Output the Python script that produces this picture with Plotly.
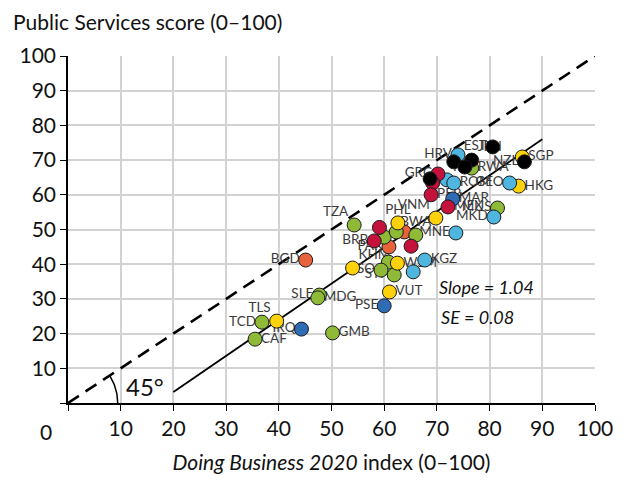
import numpy as np
import plotly.graph_objects as go

# ---------------- data ----------------
labels = ["EST", "", "JPN", "", "", "NZL",
          "GRC", "", "PER", "MEX", "", "BRB", "",
          "HRV", "POL", "ROM", "GEO", "MKD", "MNE", "KGZ", "",
          "MAR", "PSE", "IRQ",
          "SGP", "HKG", "VNM", "KHM", "WSM", "VUT", "TLS", "PHL",
          "TZA", "", "", "BWA", "", "LSO", "STP", "SLE", "MDG", "TCD", "CAF", "GMB", "RWA", "MUS",
          "BGD", "PAK", ""]
doing_business = [80.6, 73.2, 76.6, 75.3, 68.7, 86.6,
                  70.2, 69.2, 68.9, 72.1, 59.1, 58.1, 65.1,
                  74.0, 71.9, 73.2, 83.8, 80.8, 73.6, 67.7, 65.5,
                  73.0, 60.0, 44.3,
                  86.2, 85.5, 69.8, 54.0, 62.5, 61.0, 39.6, 62.6,
                  54.3, 60.0, 62.3, 66.0, 60.8, 59.4, 61.9, 47.7, 47.4, 36.8, 35.5, 50.2, 76.6, 81.5,
                  45.1, 60.9, 63.8]
public_services = [73.8, 69.5, 70.0, 68.0, 64.6, 69.5,
                   66.0, 63.4, 60.0, 56.5, 50.6, 46.7, 45.2,
                   71.5, 64.3, 63.4, 63.4, 53.6, 49.0, 41.2, 37.8,
                   58.8, 28.0, 21.3,
                   70.9, 62.5, 53.3, 38.9, 40.3, 32.0, 23.6, 51.9,
                   51.3, 47.8, 49.3, 48.4, 40.6, 38.3, 36.9, 31.1, 30.3, 23.3, 18.4, 20.2, 67.7, 56.2,
                   41.2, 45.0, 49.3]
groups = ["k"] * 6 + ["r"] * 7 + ["c"] * 8 + ["b"] * 3 + ["y"] * 8 + ["g"] * 14 + ["o"] * 3

fit_slope = 1.04
fit_intercept = -17.6
fit_x_range = [20, 90]
x_ticks = [0, 10, 20, 30, 40, 50, 60, 70, 80, 90, 100]
y_ticks = [0, 10, 20, 30, 40, 50, 60, 70, 80, 90, 100]

# ---------------- styles ----------------
COLORS = {"k": "#000000", "r": "#C4123C", "c": "#4FB6E0", "b": "#2E6CB5",
          "y": "#FDD20A", "g": "#8FBA38", "o": "#E8623C"}
LABEL_POS = {"EST": "middle left", "JPN": "top right", "NZL": "middle left",
             "GRC": "middle left", "PER": "middle right", "MEX": "middle right",
             "BRB": "middle left", "HRV": "middle left", "POL": "top right",
             "ROM": "middle right", "GEO": "middle left", "MKD": "middle left",
             "MNE": "middle left", "KGZ": "middle right", "MAR": "middle right",
             "PSE": "middle left", "IRQ": "middle left", "SGP": "middle right",
             "HKG": "middle right", "VNM": "top left", "KHM": "top right",
             "WSM": "middle right", "VUT": "middle right", "TLS": "top left",
             "PHL": "top center", "TZA": "top left", "BWA": "top center",
             "LSO": "middle left", "STP": "middle left", "SLE": "middle left",
             "MDG": "middle right", "TCD": "middle left", "CAF": "middle right",
             "GMB": "middle right", "RWA": "middle right", "MUS": "middle left",
             "BGD": "middle left", "PAK": "middle left"}
FONT = "Lato, 'Open Sans', sans-serif"
TXT = "#111111"

W, H = 627, 486
OFF = 8  # page body margin of the exported html
PL, PR, PT, PB = 65, 595, 56, 403  # plot-area edges in page pixels
ML, MT = PL - OFF, PT - OFF
MR = W - (PR - OFF)
plot_w, plot_h = PR - PL, PB - PT
MB = H - MT - plot_h

fig = go.Figure()

# 45 degree dashed line
fig.add_trace(go.Scatter(x=[0, 100], y=[0, 100], mode="lines",
                         line=dict(color="black", width=2.6, dash="13px,8px"),
                         hoverinfo="skip", showlegend=False))

# fitted line
fx = np.array(fit_x_range, dtype=float)
fig.add_trace(go.Scatter(x=fx, y=fit_intercept + fit_slope * fx, mode="lines",
                         line=dict(color="black", width=1.8),
                         hoverinfo="skip", showlegend=False))

# angle arc (50 px radius, drawn in pixel-space proportions)
r_px = 50
ang = np.arctan2(plot_h, plot_w)
t = np.linspace(0, ang, 40)
fig.add_trace(go.Scatter(x=r_px * np.cos(t) / plot_w * 100, y=r_px * np.sin(t) / plot_h * 100,
                         mode="lines", line=dict(color="black", width=1.5),
                         hoverinfo="skip", showlegend=False))

# labels (drawn first so markers sit on top)
lab_idx = [i for i, l in enumerate(labels) if l]
fig.add_trace(go.Scatter(
    x=[doing_business[i] for i in lab_idx], y=[public_services[i] for i in lab_idx],
    text=[labels[i] for i in lab_idx], mode="markers+text",
    marker=dict(size=8, opacity=0),
    textposition=[LABEL_POS[labels[i]] for i in lab_idx],
    textfont=dict(family=FONT, size=13.5, color="#3a3a3a"),
    hoverinfo="skip", showlegend=False))

for g in ["o", "g", "y", "b", "c", "r", "k"]:
    idx = [i for i, gg in enumerate(groups) if gg == g]
    fig.add_trace(go.Scatter(
        x=[doing_business[i] for i in idx], y=[public_services[i] for i in idx],
        mode="markers",
        marker=dict(size=14, color=COLORS[g], line=dict(color="#1a1a1a", width=1)),
        text=[labels[i] for i in idx], showlegend=False))

axis_common = dict(range=[0, 100], showgrid=True, gridcolor="#d2d2d2",
                   gridwidth=2, showline=True, linecolor="black", linewidth=1.5,
                   ticks="outside", ticklen=6, tickcolor="black", zeroline=False,
                   tickfont=dict(family=FONT, size=21, color=TXT))


def px_x(p):  # page x pixel -> paper coordinate
    return (p - PL) / plot_w


def px_y(p):  # page y pixel -> paper coordinate
    return (PB - p) / plot_h


fig.update_layout(
    width=W, height=H, margin=dict(l=ML, r=MR, t=MT, b=MB),
    plot_bgcolor="white", paper_bgcolor="white",
    font=dict(family=FONT, color=TXT),
    xaxis=dict(axis_common, tickvals=x_ticks, ticktext=[""] + [str(v) for v in x_ticks[1:]],
               title=dict(text="<i>Doing Business 2020</i> index (0–100)",
                          font=dict(family=FONT, size=21, color=TXT), standoff=16)),
    yaxis=dict(axis_common, tickvals=y_ticks, ticktext=[""] + [str(v) for v in y_ticks[1:]]),
    annotations=[
        dict(text="Public Services score (0–100)", xref="paper", yref="paper",
             x=px_x(OFF), y=px_y(21), xanchor="left", yanchor="middle",
             showarrow=False, font=dict(family=FONT, size=21, color=TXT)),
        dict(text="0", xref="paper", yref="paper", x=px_x(43), y=px_y(432),
             xanchor="center", yanchor="middle", showarrow=False,
             font=dict(family=FONT, size=21, color=TXT)),
        dict(text="45°", xref="paper", yref="paper", x=px_x(142), y=px_y(386),
             xanchor="center", yanchor="middle", showarrow=False,
             font=dict(family=FONT, size=24, color=TXT)),
        dict(text="<i>Slope = 1.04</i>", xref="paper", yref="paper", x=px_x(486),
             y=px_y(287), xanchor="center", yanchor="middle", showarrow=False,
             font=dict(family=FONT, size=18, color=TXT)),
        dict(text="<i>SE = 0.08</i>", xref="paper", yref="paper", x=px_x(477),
             y=px_y(317), xanchor="center", yanchor="middle", showarrow=False,
             font=dict(family=FONT, size=18, color=TXT)),
    ],
)

fig.write_html("out.html")
